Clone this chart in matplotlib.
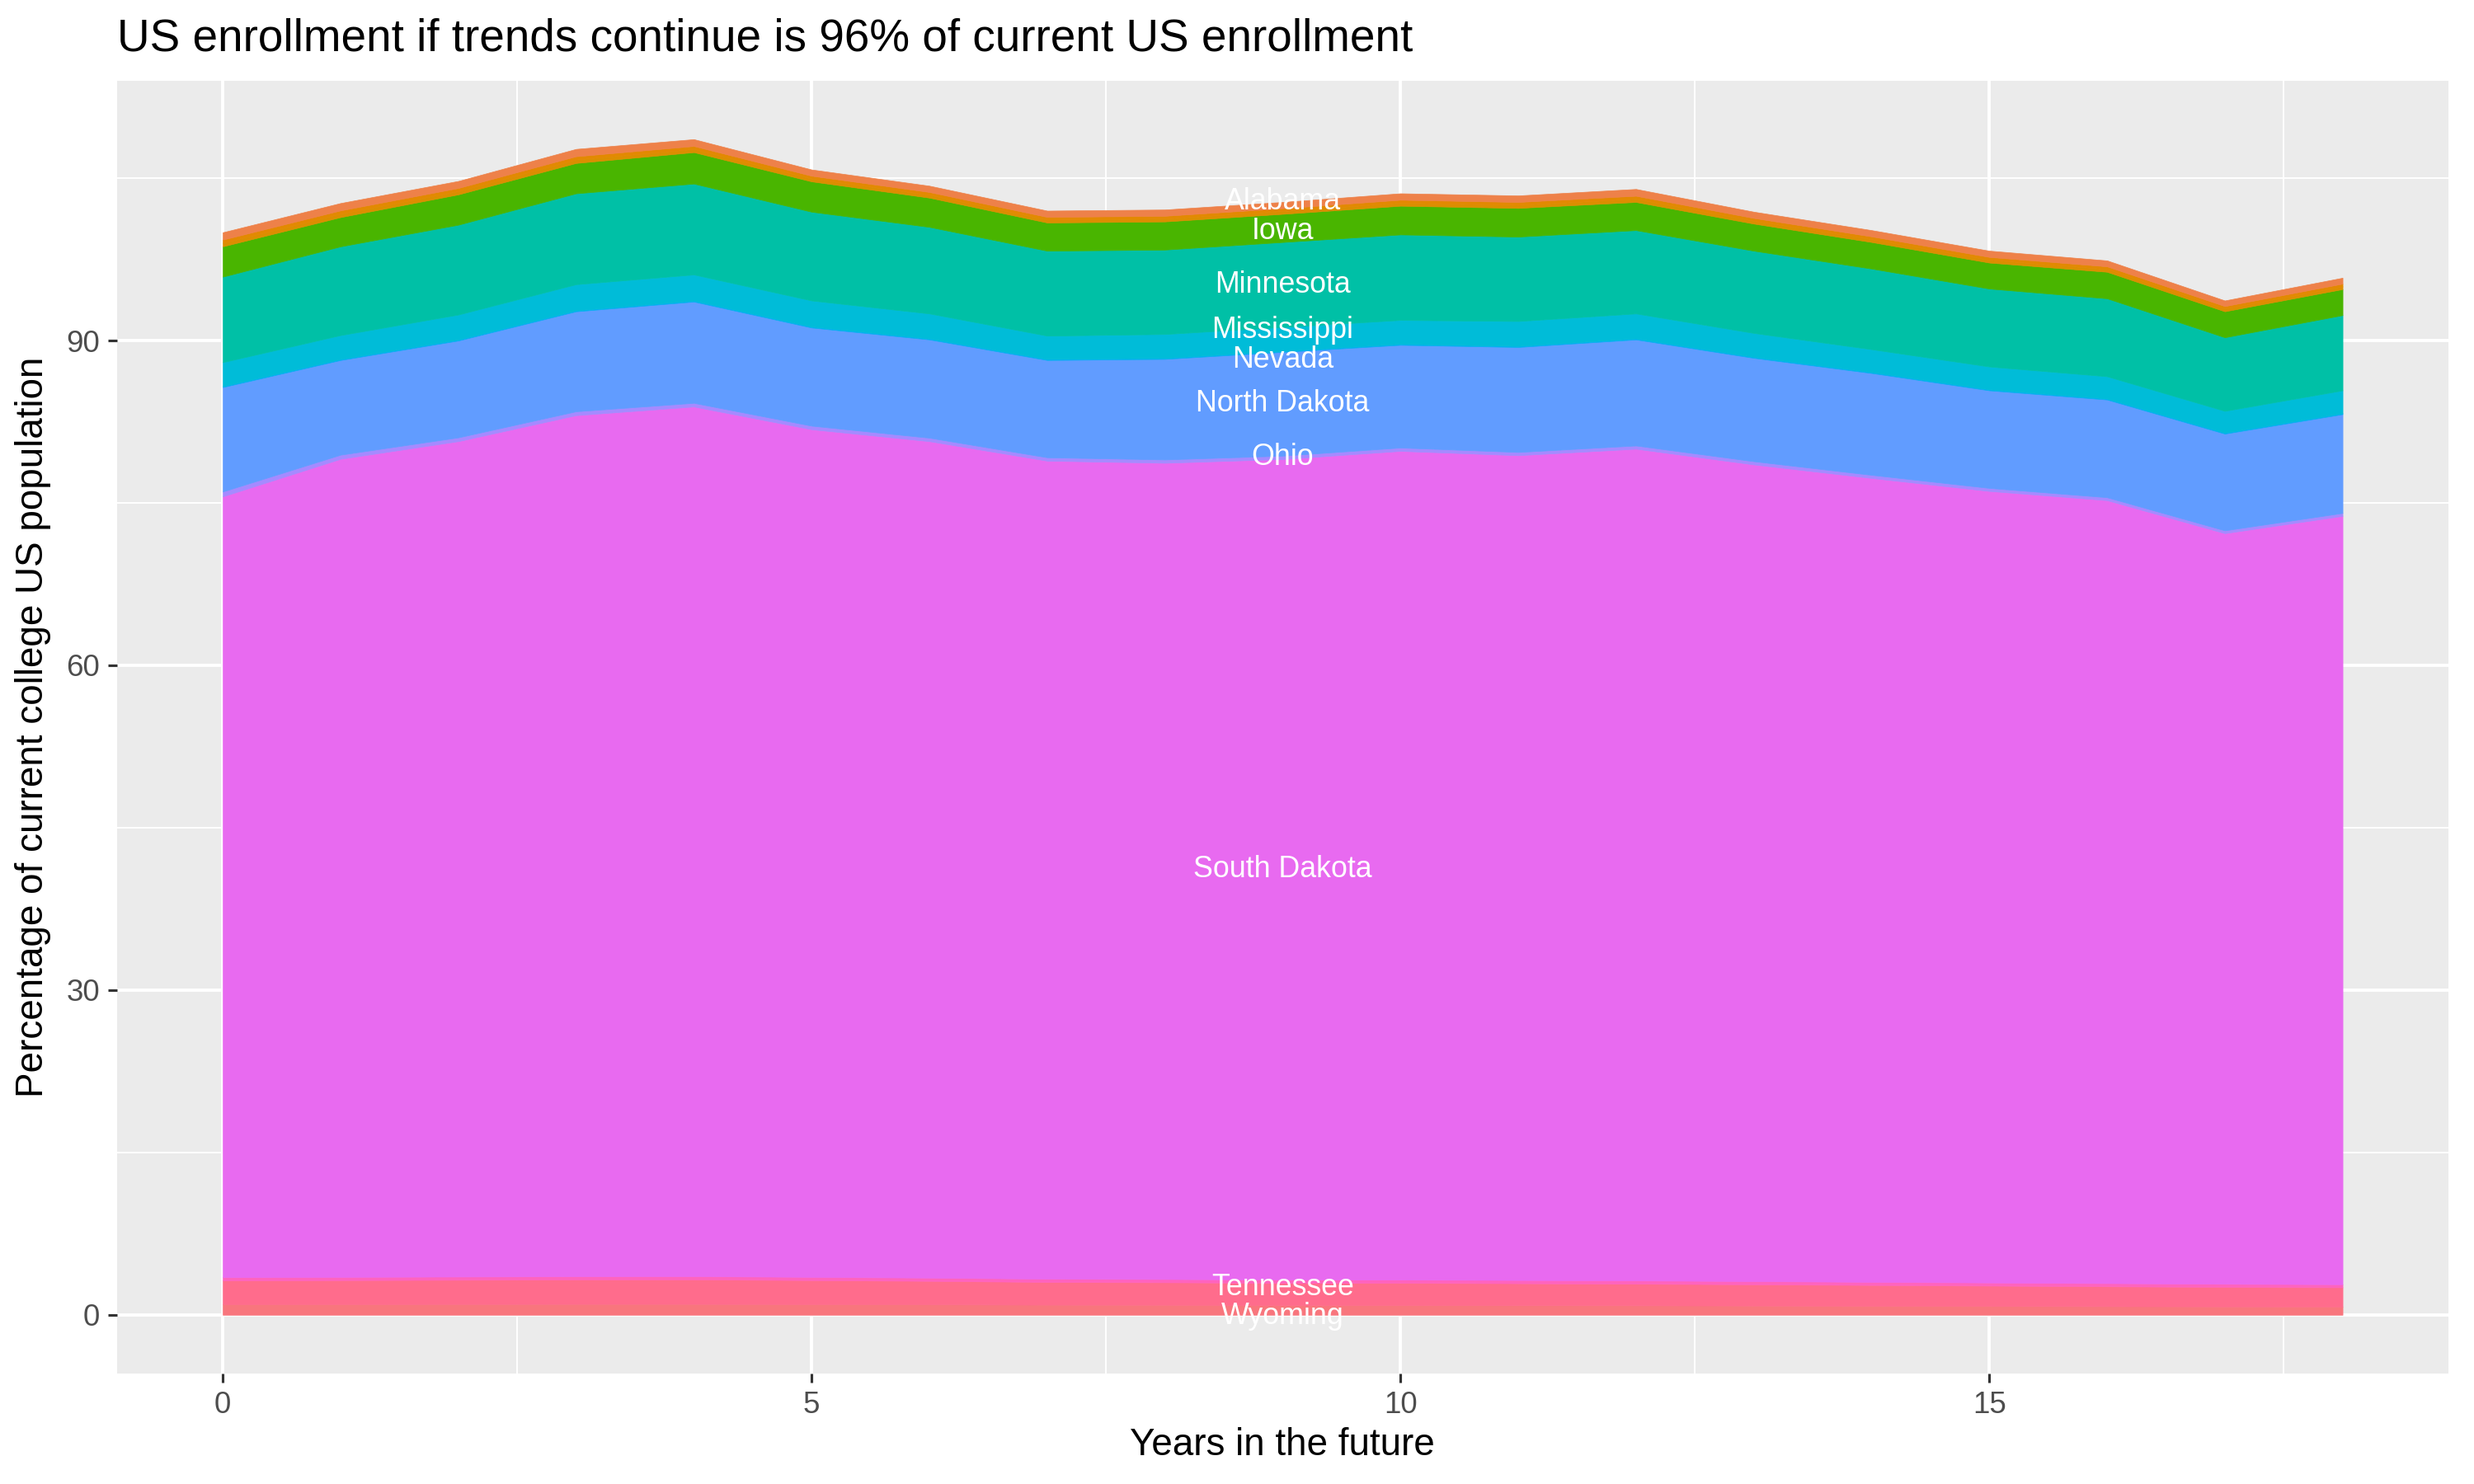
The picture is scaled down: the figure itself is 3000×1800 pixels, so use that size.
import matplotlib
matplotlib.use("Agg")
import matplotlib.pyplot as plt
import numpy as np

plt.rcParams['font.family'] = ['Liberation Sans', 'DejaVu Sans']

years = list(range(19))

# layer thicknesses (percentage points), stacked bottom -> top
wyoming = [0.97, 0.98, 0.99, 1.00, 1.00, 0.98, 0.96, 0.93, 0.92, 0.90, 0.90, 0.88, 0.87, 0.85, 0.83, 0.81, 0.79, 0.77, 0.76]
tennessee = [2.20, 2.22, 2.24, 2.26, 2.27, 2.22, 2.17, 2.10, 2.08, 2.05, 2.05, 2.03, 2.00, 1.96, 1.92, 1.88, 1.84, 1.80, 1.78]
other_c = [0.30, 0.30, 0.30, 0.30, 0.30, 0.30, 0.30, 0.30, 0.30, 0.30, 0.30, 0.30, 0.30, 0.30, 0.29, 0.29, 0.29, 0.29, 0.28]
south_dakota = [72.13, 75.57, 77.17, 79.54, 80.33, 78.30, 77.27, 75.57, 75.40, 75.80, 76.55, 76.19, 76.83, 75.44, 74.26, 73.12, 72.33, 69.34, 70.98]
ohio = [0.45, 0.38, 0.35, 0.36, 0.34, 0.33, 0.32, 0.31, 0.31, 0.31, 0.31, 0.30, 0.30, 0.30, 0.29, 0.28, 0.27, 0.26, 0.27]
north_dakota = [9.65, 8.75, 8.95, 9.24, 9.36, 9.07, 9.08, 8.99, 9.29, 9.59, 9.49, 9.70, 9.80, 9.55, 9.41, 9.02, 9.03, 8.94, 9.13]
nevada = [0.10, 0.10, 0.10, 0.10, 0.10, 0.10, 0.10, 0.10, 0.10, 0.10, 0.10, 0.10, 0.10, 0.10, 0.10, 0.10, 0.10, 0.10, 0.10]
mississippi = [2.20, 2.20, 2.30, 2.40, 2.40, 2.40, 2.30, 2.15, 2.20, 2.20, 2.20, 2.30, 2.30, 2.20, 2.10, 2.10, 2.05, 2.00, 2.10]
minnesota = [7.90, 8.20, 8.30, 8.40, 8.40, 8.20, 8.00, 7.85, 7.80, 7.85, 7.90, 7.80, 7.70, 7.60, 7.45, 7.20, 7.20, 6.80, 6.95]
iowa = [2.80, 2.70, 2.80, 2.80, 2.90, 2.80, 2.70, 2.60, 2.60, 2.60, 2.65, 2.65, 2.60, 2.50, 2.45, 2.40, 2.45, 2.40, 2.40]
other_b = [0.32, 0.32, 0.30, 0.32, 0.29, 0.26, 0.26, 0.26, 0.26, 0.26, 0.28, 0.28, 0.29, 0.26, 0.26, 0.26, 0.25, 0.24, 0.25]
other_a = [0.30, 0.30, 0.29, 0.30, 0.28, 0.26, 0.26, 0.26, 0.26, 0.26, 0.27, 0.27, 0.28, 0.26, 0.26, 0.26, 0.25, 0.24, 0.25]
alabama = [0.68, 0.68, 0.65, 0.68, 0.63, 0.58, 0.58, 0.58, 0.58, 0.58, 0.60, 0.60, 0.63, 0.58, 0.58, 0.58, 0.55, 0.52, 0.55]

series = [
    ("Wyoming", wyoming, "#F8767D", True),
    ("Tennessee", tennessee, "#FF6C8C", True),
    ("", other_c, "#FF63BE", False),
    ("South Dakota", south_dakota, "#E86AF0", True),
    ("Ohio", ohio, "#A58AFF", True),
    ("North Dakota", north_dakota, "#619CFF", True),
    ("Nevada", nevada, "#00B0F0", True),
    ("Mississippi", mississippi, "#00BCD8", True),
    ("Minnesota", minnesota, "#00C0A6", True),
    ("Iowa", iowa, "#49B500", True),
    ("", other_b, "#DB8E00", False),
    ("", other_a, "#E38900", False),
    ("Alabama", alabama, "#EE8149", True),
]

title = "US enrollment if trends continue is 96% of current US enrollment"
xlabel = "Years in the future"
ylabel = "Percentage of current college US population"

W, H, DPI = 12, 7.2, 250
fig = plt.figure(figsize=(W, H), dpi=DPI, facecolor="white")
L, R, B, T = 0.0472, 0.9897, 0.0744, 0.9458
ax = fig.add_axes([L, B, R - L, T - B])
ax.set_facecolor("#EBEBEB")

x = np.array(years, dtype=float)
base = np.zeros_like(x)
label_x = 9
label_info = []
for name, vals, col, show in series:
    v = np.array(vals)
    top = base + v
    ax.fill_between(x, base, top, facecolor=col, edgecolor=col, linewidth=0.2, zorder=2)
    if show:
        label_info.append([name, (base[label_x] + top[label_x]) / 2.0])
    base = top

# separate overlapping labels
min_gap = 2.7
label_info.sort(key=lambda t: t[1])
for _ in range(50):
    moved = False
    for i in range(len(label_info) - 1):
        lo, hi = label_info[i], label_info[i + 1]
        gap = hi[1] - lo[1]
        if gap < min_gap - 1e-6:
            d = (min_gap - gap) / 2.0
            lo[1] -= d
            hi[1] += d
            moved = True
    if not moved:
        break
for name, yy in label_info:
    ax.text(label_x, yy, name, color="white", fontsize=10.3, ha="center", va="center", zorder=5)

ymax = base.max()
ax.set_xlim(-0.05 * 18, 18 + 0.05 * 18)
ax.set_ylim(-0.05 * ymax, ymax * 1.05)

ax.set_xticks([0, 5, 10, 15])
ax.set_xticks([2.5, 7.5, 12.5, 17.5], minor=True)
ax.set_yticks([0, 30, 60, 90])
ax.set_yticks([15, 45, 75, 105], minor=True)
ax.grid(which="major", color="white", linewidth=1.1, zorder=0)
ax.grid(which="minor", color="white", linewidth=0.55, zorder=0)
ax.set_axisbelow(True)
for s in ax.spines.values():
    s.set_visible(False)
ax.tick_params(which="major", length=3.3, width=0.9, color="#333333", labelcolor="#4D4D4D", labelsize=10.6, pad=2.6)
ax.tick_params(which="minor", length=0)

fig.text(L, 0.9735, title, fontsize=15.8, ha="left", va="center", color="black")
fig.text((L + R) / 2, 0.0262, xlabel, fontsize=13.2, ha="center", va="center")
fig.text(0.0135, (B + T) / 2, ylabel, fontsize=13.2, ha="center", va="center", rotation=90)

fig.savefig("out.png", dpi=DPI, facecolor="white")
